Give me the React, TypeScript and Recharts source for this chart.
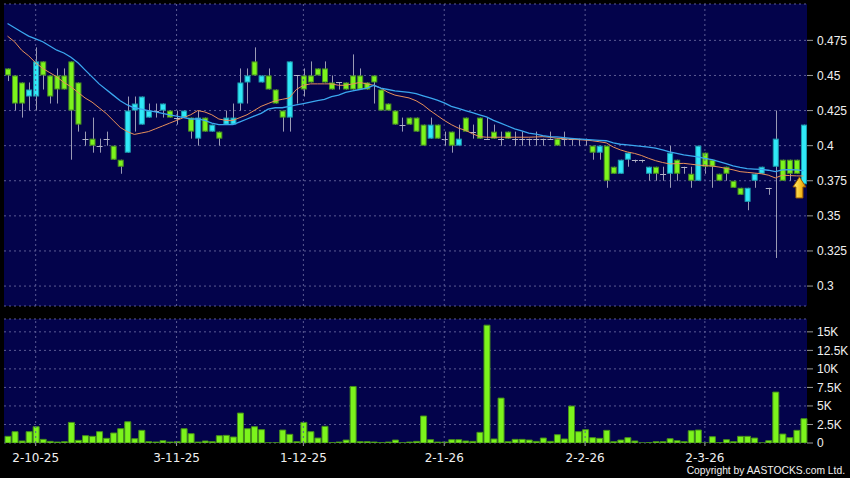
import {
  ComposedChart, BarChart, Bar, Line, XAxis, YAxis, CartesianGrid, ReferenceLine, ReferenceDot,
} from "recharts";

// daily candles, oldest first
const opens = [
  0.455, 0.45, 0.445, 0.435, 0.435, 0.46, 0.45, 0.45, 0.45, 0.46,
  0.445, 0.405, 0.405, 0.4, 0.405, 0.4, 0.39, 0.395, 0.425, 0.415,
  0.42, 0.425, 0.425, 0.425, 0.42, 0.42, 0.42, 0.405, 0.42, 0.41,
  0.41, 0.415, 0.415, 0.43, 0.445, 0.46, 0.445, 0.45, 0.44, 0.425,
  0.42, 0.45, 0.45, 0.45, 0.455, 0.455, 0.445, 0.445, 0.445, 0.45,
  0.45, 0.445, 0.45, 0.44, 0.43, 0.425, 0.415, 0.42, 0.42, 0.415,
  0.405, 0.415, 0.405, 0.41, 0.4, 0.42, 0.41, 0.42, 0.405, 0.41,
  0.405, 0.41, 0.405, 0.405, 0.405, 0.405, 0.405, 0.405, 0.405, 0.405,
  0.405, 0.405, 0.405, 0.4, 0.395, 0.4, 0.385, 0.38, 0.39, 0.39,
  0.39, 0.38, 0.385, 0.38, 0.38, 0.39, 0.385, 0.38, 0.375, 0.395,
  0.39, 0.38, 0.385, 0.375, 0.37, 0.36, 0.375, 0.38, 0.37, 0.385,
  0.39, 0.39, 0.39, 0.3725,
];
const highs = [
  0.455, 0.45, 0.445, 0.445, 0.47, 0.46, 0.45, 0.455, 0.455, 0.46,
  0.445, 0.41, 0.42, 0.405, 0.41, 0.4, 0.39, 0.435, 0.435, 0.435,
  0.43, 0.43, 0.43, 0.425, 0.425, 0.425, 0.42, 0.425, 0.42, 0.415,
  0.41, 0.425, 0.43, 0.455, 0.455, 0.47, 0.45, 0.455, 0.44, 0.425,
  0.46, 0.45, 0.455, 0.46, 0.455, 0.46, 0.45, 0.445, 0.445, 0.465,
  0.455, 0.445, 0.45, 0.44, 0.43, 0.425, 0.42, 0.42, 0.42, 0.415,
  0.42, 0.415, 0.41, 0.41, 0.415, 0.42, 0.415, 0.42, 0.42, 0.415,
  0.41, 0.41, 0.41, 0.41, 0.405, 0.41, 0.405, 0.41, 0.405, 0.41,
  0.405, 0.405, 0.405, 0.4, 0.4, 0.4, 0.385, 0.39, 0.395, 0.39,
  0.39, 0.385, 0.385, 0.385, 0.4, 0.39, 0.385, 0.385, 0.4, 0.395,
  0.39, 0.38, 0.385, 0.375, 0.37, 0.37, 0.38, 0.385, 0.37, 0.425,
  0.39, 0.39, 0.39, 0.415,
];
const lows = [
  0.446, 0.425, 0.42, 0.425, 0.425, 0.44, 0.43, 0.43, 0.44, 0.39,
  0.41, 0.4, 0.395, 0.395, 0.4, 0.39, 0.38, 0.395, 0.41, 0.415,
  0.42, 0.42, 0.42, 0.42, 0.415, 0.42, 0.405, 0.4, 0.41, 0.41,
  0.4, 0.415, 0.415, 0.425, 0.43, 0.45, 0.445, 0.44, 0.43, 0.41,
  0.41, 0.43, 0.435, 0.445, 0.45, 0.445, 0.44, 0.44, 0.44, 0.44,
  0.44, 0.44, 0.43, 0.425, 0.425, 0.415, 0.41, 0.415, 0.41, 0.4,
  0.405, 0.405, 0.4, 0.395, 0.4, 0.41, 0.405, 0.405, 0.405, 0.405,
  0.4, 0.405, 0.4, 0.4, 0.4, 0.4, 0.4, 0.405, 0.4, 0.4,
  0.4, 0.4, 0.4, 0.39, 0.39, 0.37, 0.38, 0.38, 0.385, 0.388,
  0.388, 0.375, 0.375, 0.375, 0.37, 0.375, 0.38, 0.37, 0.375, 0.38,
  0.37, 0.375, 0.375, 0.37, 0.365, 0.354, 0.37, 0.38, 0.365, 0.32,
  0.375, 0.375, 0.38, 0.3725,
];
const closes = [
  0.45, 0.43, 0.43, 0.44, 0.46, 0.45, 0.435, 0.44, 0.44, 0.425,
  0.415, 0.405, 0.4, 0.4, 0.405, 0.39, 0.385, 0.425, 0.43, 0.435,
  0.425, 0.425, 0.43, 0.42, 0.42, 0.425, 0.41, 0.42, 0.41, 0.415,
  0.405, 0.42, 0.42, 0.445, 0.45, 0.45, 0.45, 0.44, 0.43, 0.42,
  0.46, 0.45, 0.44, 0.445, 0.45, 0.445, 0.44, 0.445, 0.44, 0.44,
  0.44, 0.44, 0.445, 0.425, 0.425, 0.415, 0.415, 0.415, 0.41, 0.4,
  0.415, 0.405, 0.405, 0.4, 0.405, 0.41, 0.41, 0.405, 0.405, 0.405,
  0.405, 0.405, 0.405, 0.405, 0.405, 0.405, 0.405, 0.405, 0.4, 0.405,
  0.405, 0.405, 0.405, 0.395, 0.4, 0.375, 0.38, 0.39, 0.395, 0.39,
  0.39, 0.385, 0.38, 0.38, 0.395, 0.38, 0.385, 0.375, 0.4, 0.385,
  0.385, 0.375, 0.38, 0.37, 0.365, 0.37, 0.38, 0.385, 0.37, 0.405,
  0.375, 0.38, 0.38, 0.415,
];
const volumes = [
  900, 1530, 270, 1530, 2200, 490, 220, 130, 180, 2780,
  360, 990, 900, 1530, 630, 1350, 1930, 2870, 580, 1710,
  180, 130, 310, 130, 180, 1930, 1260, 130, 270, 180,
  990, 1030, 810, 4040, 1930, 2200, 1800, 20, 20, 1750,
  1170, 180, 2780, 1530, 670, 2250, 50, 130, 400, 7630,
  180, 180, 130, 50, 130, 400, 20, 130, 220, 3640,
  450, 130, 130, 450, 450, 270, 220, 1440, 15900, 540,
  6060, 180, 490, 490, 400, 220, 670, 220, 1120, 540,
  4980, 1530, 1800, 720, 630, 1710, 180, 400, 720, 270,
  10, 50, 180, 180, 580, 310, 180, 1660, 1750, 10,
  850, 50, 450, 180, 900, 900, 670, 10, 310, 6870,
  1210, 720, 1710, 3280,
];
// moving averages as drawn on the chart (orange = short, blue = long)
const maShort = [
  0.478, 0.474, 0.468, 0.464, 0.459, 0.455, 0.452, 0.449, 0.445, 0.442,
  0.438, 0.434, 0.431, 0.427, 0.423, 0.418, 0.413, 0.41, 0.408, 0.409,
  0.41, 0.412, 0.414, 0.416, 0.418, 0.42, 0.422, 0.425, 0.424, 0.422,
  0.419, 0.418, 0.418, 0.42, 0.422, 0.425, 0.428, 0.43, 0.432, 0.433,
  0.434, 0.44, 0.443, 0.444, 0.444, 0.444, 0.444, 0.443, 0.443, 0.444,
  0.445, 0.444, 0.443, 0.441, 0.438, 0.436, 0.435, 0.434, 0.432, 0.429,
  0.425, 0.4215, 0.418, 0.415, 0.4125, 0.411, 0.4085, 0.4065, 0.406, 0.406,
  0.406, 0.406, 0.406, 0.406, 0.406, 0.4062, 0.4064, 0.406, 0.4053, 0.405,
  0.4047, 0.4043, 0.404, 0.4035, 0.4028, 0.402, 0.399, 0.397, 0.3955, 0.3945,
  0.393, 0.391, 0.3893, 0.388, 0.387, 0.3872, 0.3874, 0.3868, 0.3862, 0.3858,
  0.3855, 0.3848, 0.3838, 0.3828, 0.3815, 0.381, 0.3805, 0.38, 0.379, 0.377,
  0.379, 0.3787, 0.3785, 0.3784,
];
const maLong = [
  0.487, 0.484, 0.481, 0.478, 0.476, 0.474, 0.471, 0.468, 0.466, 0.463,
  0.459, 0.454, 0.449, 0.444, 0.44, 0.436, 0.432, 0.429, 0.427, 0.426,
  0.425, 0.424, 0.423, 0.422, 0.421, 0.42, 0.419, 0.419, 0.418, 0.416,
  0.415, 0.415, 0.415, 0.417, 0.419, 0.421, 0.423, 0.426, 0.427, 0.427,
  0.428, 0.429, 0.43, 0.431, 0.432, 0.433, 0.435, 0.436, 0.438, 0.439,
  0.44, 0.441, 0.443, 0.441, 0.44, 0.439, 0.4385, 0.438, 0.437, 0.4355,
  0.434, 0.4325, 0.4305, 0.428, 0.4265, 0.425, 0.4235, 0.422, 0.4205, 0.418,
  0.416, 0.414, 0.412, 0.4105, 0.409, 0.4082, 0.4072, 0.4065, 0.4062, 0.4057,
  0.4052, 0.4048, 0.4045, 0.4041, 0.4038, 0.4035, 0.402, 0.401, 0.4005, 0.4,
  0.3995, 0.399, 0.3982, 0.397, 0.3955, 0.3945, 0.3935, 0.3927, 0.392, 0.391,
  0.39, 0.3886, 0.3872, 0.3856, 0.3845, 0.3836, 0.3833, 0.3831, 0.3825, 0.3815,
  0.3828, 0.383, 0.3827, 0.3822,
];

const dateTicks = [4, 24, 42, 62, 82, 99];
const dateLabels = ["2-10-25", "3-11-25", "1-12-25", "2-1-26", "2-2-26", "2-3-26"];
const priceTicks = [0.3, 0.325, 0.35, 0.375, 0.4, 0.425, 0.45, 0.475];
const volumeTicks = [0, 2500, 5000, 7500, 10000, 12500, 15000];
const signalAt = { i: 112, price: 0.3777 };

const rows = opens.map((open, i) => ({
  i,
  open,
  high: highs[i],
  low: lows[i],
  close: closes[i],
  range: [lows[i], highs[i]],
  vol: volumes[i],
  maShort: maShort[i],
  maLong: maLong[i],
}));

const NAVY = "#03034b";
const GRID = "#5c5c94";
const axisTick = { fill: "#f0f0f0", fontSize: 12, fontFamily: "Liberation Sans, Arial, sans-serif" };

const Candle = (props: any) => {
  const { x, y, width, height, payload } = props;
  if (x == null || !payload) return null;
  const { open, close, high, low } = payload;
  const top = Math.min(y, y + height);
  const h = Math.abs(height);
  const span = high - low;
  const py = (v: number) => (span > 0 ? top + ((high - v) / span) * h : top);
  const cx = Math.round(x + width / 2) + 0.5;
  const wick = <line x1={cx} x2={cx} y1={top} y2={top + h} stroke="#9a9ab4" strokeWidth={1} />;

  if (open === close) {
    const yy = Math.round(py(open)) + 0.5;
    return (
      <g>
        {wick}
        <line x1={x} x2={x + width} y1={yy} y2={yy} stroke="#b4b4c8" strokeWidth={1} />
      </g>
    );
  }
  const up = close > open;
  const bt = py(Math.max(open, close));
  const bb = py(Math.min(open, close));
  return (
    <g>
      {wick}
      <rect
        x={x + 0.5}
        y={bt + 0.5}
        width={width - 1}
        height={Math.max(bb - bt - 1, 1)}
        fill={up ? "#30e8f8" : "#7cf41c"}
        stroke={up ? "#1c9fb0" : "#4a9320"}
        strokeWidth={1}
      />
    </g>
  );
};

const SignalArrow = (props: any) => {
  const { cx, cy } = props;
  if (cx == null || cy == null) return null;
  const ax = cx + 3;
  const pts = [
    [0, 0], [6.5, 10], [3.5, 10], [3.5, 21], [-3.5, 21], [-3.5, 10], [-6.5, 10],
  ].map(([dx, dy]) => `${ax + dx},${cy + dy}`).join(" ");
  return (
    <g>
      <defs>
        <linearGradient id="arrowFill" x1="0" y1="0" x2="1" y2="0">
          <stop offset="0%" stopColor="#fff07a" />
          <stop offset="55%" stopColor="#f8c428" />
          <stop offset="100%" stopColor="#d88a00" />
        </linearGradient>
      </defs>
      <polygon points={pts} fill="url(#arrowFill)" stroke="#9a5a00" strokeWidth={1} />
    </g>
  );
};

export default function App() {
  return (
    <div style={{ position: "absolute", left: 0, top: 0, width: 850, height: 478, background: "#000", overflow: "hidden" }}>
      <div style={{ position: "absolute", left: 0, top: 0 }}>
        <ComposedChart width={850} height={310} data={rows} margin={{ top: 4, right: 0, bottom: 4, left: 4 }}>
          <CartesianGrid fill={NAVY} stroke={GRID} strokeDasharray="2 3" vertical={false} />
          <XAxis dataKey="i" type="category" hide />
          <YAxis
            orientation="right"
            width={43}
            domain={[0.2858, 0.5009]}
            allowDataOverflow
            ticks={priceTicks}
            interval={0}
            tickFormatter={(v: number) => String(v)}
            tick={axisTick}
            tickLine={{ stroke: "#9a9a9a" }}
            tickSize={6}
            tickMargin={4}
            axisLine={false}
          />
          {dateTicks.map((t) => (
            <ReferenceLine key={t} x={t} stroke={GRID} strokeDasharray="2 3" />
          ))}
          <Bar dataKey="range" barSize={6} shape={(p: any) => <Candle {...p} />} isAnimationActive={false} />
          <Line type="linear" dataKey="maShort" stroke="#e8905a" strokeWidth={1} dot={false} isAnimationActive={false} />
          <Line type="linear" dataKey="maLong" stroke="#3aa6ee" strokeWidth={1.3} dot={false} isAnimationActive={false} />
          <ReferenceDot x={signalAt.i} y={signalAt.price} r={0} shape={(p: any) => <SignalArrow {...p} />} />
        </ComposedChart>
      </div>

      <div style={{ position: "absolute", left: 0, top: 310 }}>
        <BarChart width={850} height={168} data={rows} margin={{ top: 9, right: 0, bottom: 0, left: 4 }}>
          <CartesianGrid fill={NAVY} stroke={GRID} strokeDasharray="2 3" vertical={false} />
          <XAxis
            dataKey="i"
            type="category"
            ticks={dateTicks}
            interval={0}
            tickFormatter={(v: number) => dateLabels[dateTicks.indexOf(v)] ?? ""}
            tick={{ fill: "#f0f0f0", fontSize: 12, fontFamily: "DejaVu Sans, sans-serif" }}
            tickLine={{ stroke: "#9a9a9a" }}
            tickSize={3}
            tickMargin={7}
            axisLine={false}
            height={35}
          />
          <YAxis
            orientation="right"
            width={43}
            domain={[0, 16735]}
            allowDataOverflow
            ticks={volumeTicks}
            interval={0}
            tickFormatter={(v: number) => (v === 0 ? "0" : `${v / 1000}K`)}
            tick={axisTick}
            tickLine={{ stroke: "#9a9a9a" }}
            tickSize={6}
            tickMargin={4}
            axisLine={false}
          />
          {dateTicks.map((t) => (
            <ReferenceLine key={t} x={t} stroke={GRID} strokeDasharray="2 3" />
          ))}
          <Bar dataKey="vol" barSize={6} fill="#7cf41c" stroke="#46901a" strokeWidth={1} isAnimationActive={false} />
        </BarChart>
      </div>

      <div
        style={{
          position: "absolute",
          right: 5,
          top: 465,
          color: "#f0f0f0",
          fontSize: 10.3,
          lineHeight: "12px",
          fontFamily: "Liberation Sans, Arial, sans-serif",
          whiteSpace: "nowrap",
        }}
      >
        Copyright by AASTOCKS.com Ltd.
      </div>
    </div>
  );
}
